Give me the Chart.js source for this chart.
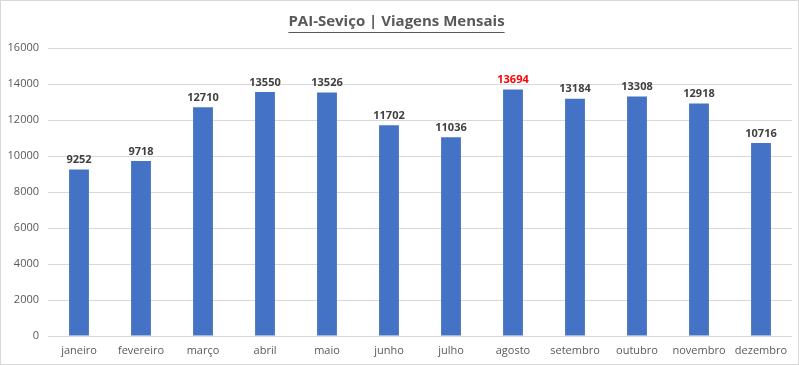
<!DOCTYPE html>
<html>
<head>
<meta charset="utf-8">
<script src="https://cdn.jsdelivr.net/npm/chart.js@4"></script>
<style>
  html, body { margin: 0; padding: 0; background: #fff; }
  #wrap { width: 799px; height: 365px; box-sizing: border-box; border: 1px solid #d9d9d9; position: relative; }
</style>
</head>
<body>
<div id="wrap"><canvas id="chart"></canvas></div>
<script>
const months = ['janeiro', 'fevereiro', 'março', 'abril', 'maio', 'junho', 'julho', 'agosto', 'setembro', 'outubro', 'novembro', 'dezembro'];
const trips = [9252, 9718, 12710, 13550, 13526, 11702, 11036, 13694, 13184, 13308, 12918, 10716];
const highlightMonth = 'agosto';

const FONT = "'Open Sans', 'Liberation Sans', sans-serif";

// labels above each bar
const valueLabels = {
  id: 'valueLabels',
  afterDatasetsDraw(chart) {
    const ctx = chart.ctx;
    const meta = chart.getDatasetMeta(0);
    ctx.save();
    ctx.font = 'bold 11px ' + FONT;
    ctx.textAlign = 'center';
    ctx.textBaseline = 'bottom';
    meta.data.forEach((bar, i) => {
      ctx.fillStyle = months[i] === highlightMonth ? '#ff0000' : '#404040';
      ctx.fillText(trips[i], bar.x, bar.y - 4);
    });
    ctx.restore();
  }
};

// underline the title
const titleUnderline = {
  id: 'titleUnderline',
  afterDraw(chart) {
    const t = chart.titleBlock;
    const opts = chart.options.plugins.title;
    const ctx = chart.ctx;
    ctx.save();
    ctx.font = 'bold 15px ' + FONT;
    const w = ctx.measureText(opts.text).width;
    const cx = (t.left + t.right) / 2;
    const y = Math.round(t.top + opts.padding.top + 19);
    ctx.strokeStyle = '#595959';
    ctx.lineWidth = 1;
    ctx.beginPath();
    ctx.moveTo(cx - w / 2, y + 0.5);
    ctx.lineTo(cx + w / 2, y + 0.5);
    ctx.stroke();
    ctx.restore();
  }
};

new Chart(document.getElementById('chart'), {
  type: 'bar',
  data: {
    labels: months,
    datasets: [{
      data: trips,
      backgroundColor: '#4472c4',
      barPercentage: 0.32,
      categoryPercentage: 1
    }]
  },
  options: {
    responsive: true,
    maintainAspectRatio: false,
    animation: false,
    layout: { padding: { left: 0, right: 6, top: 4, bottom: 0 } },
    plugins: {
      legend: { display: false },
      tooltip: { enabled: false },
      title: {
        display: true,
        text: 'PAI-Seviço | Viagens Mensais',
        color: '#595959',
        font: { family: FONT, size: 15, weight: 'bold' },
        padding: { top: 8, bottom: 17 }
      }
    },
    scales: {
      x: {
        grid: { display: false, drawTicks: false },
        border: { display: false },
        ticks: { color: '#595959', font: { family: FONT, size: 11 }, padding: 8, maxRotation: 0 },
        afterFit(scale) { scale.height = 28; }
      },
      y: {
        min: 0,
        max: 16000,
        ticks: {
          stepSize: 2000, color: '#595959', font: { family: FONT, size: 11 }, padding: 9,
          callback: v => String(v)
        },
        grid: { color: '#d9d9d9', drawTicks: false },
        border: { display: false },
        afterFit(scale) { scale.width = 47; }
      }
    }
  },
  plugins: [valueLabels, titleUnderline]
});
</script>
</body>
</html>
